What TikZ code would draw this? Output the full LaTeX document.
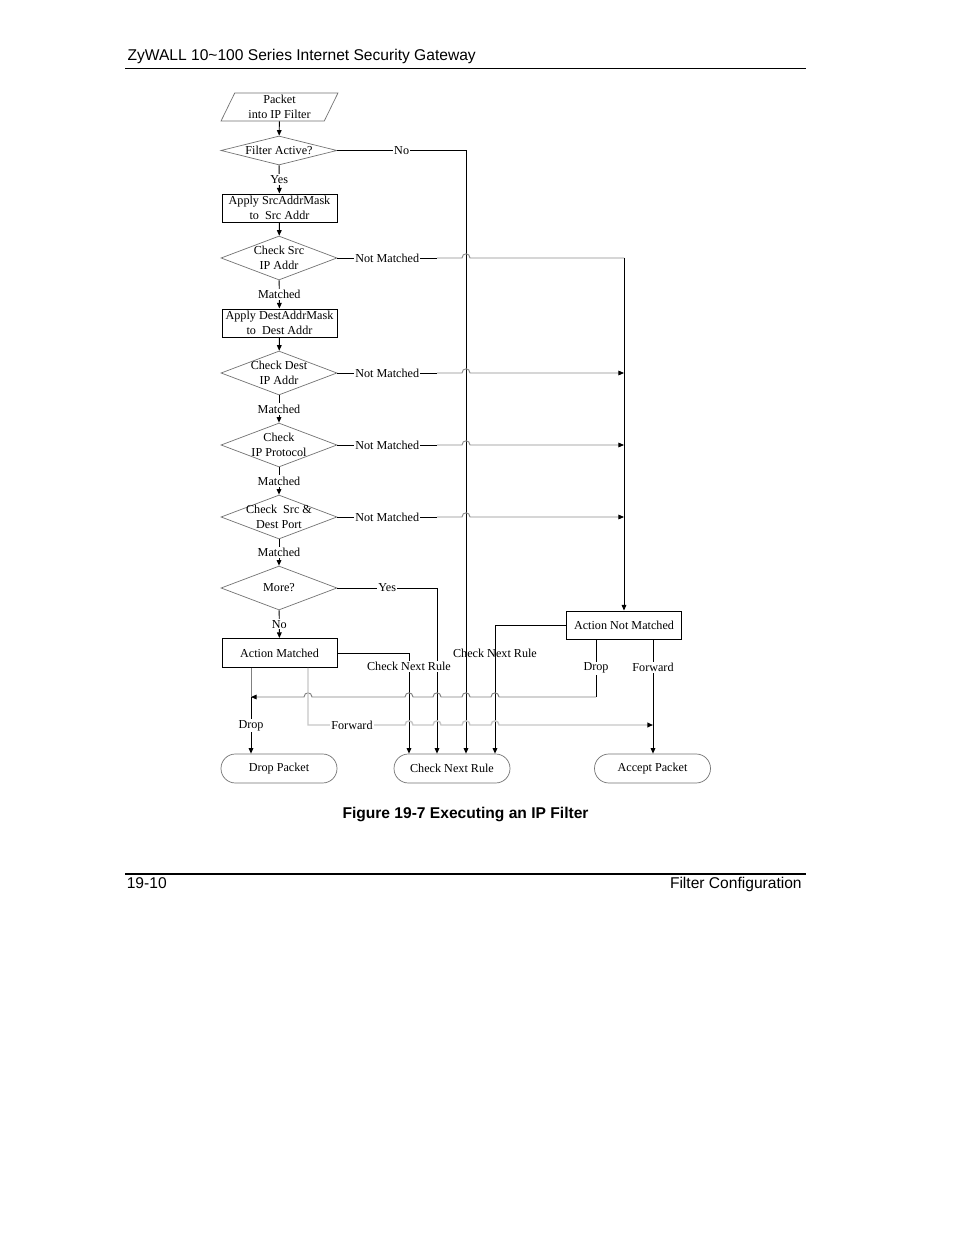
\documentclass[tikz,border=0pt]{standalone}
\usepackage{fontspec}
\setmainfont{Liberation Serif}
\newfontfamily\hsans{Liberation Sans}
\usetikzlibrary{shapes.geometric,arrows.meta}
\begin{document}
\begin{tikzpicture}[x=0.64151pt,y=-0.64151pt,
  every node/.style={font=\fontsize{7.8}{9.6}\selectfont, inner sep=0pt, align=center},
  ln/.style={line width=0.6pt, draw=black},
  arr/.style={ln, -{Triangle[length=3.6pt,width=3pt,color=black]}},
  gl/.style={line width=0.6pt, draw=black!45},
  gm/.style={line width=0.6pt, draw=black!50},
  gf/.style={line width=0.9pt, draw=black!22},
  tip/.style={-{Triangle[length=3.6pt,width=3pt,color=black]}},
  lab/.style={fill=white, inner sep=0.8pt},
  txt/.style={align=center},
  box/.style={draw=black, line width=0.6pt, minimum width=73.77pt, minimum height=17.96pt},
  dia/.style={diamond, draw=black!55, line width=0.45pt, minimum width=74.4pt, minimum height=28.2pt},
  term/.style={rectangle, rounded corners=9.2pt, draw=black!55, line width=0.45pt, minimum width=74.4pt, minimum height=18.6pt},
  para/.style={trapezium, trapezium left angle=68, trapezium right angle=112, trapezium stretches=true, draw=black!55, line width=0.45pt, minimum width=75.06pt, minimum height=17.96pt},
  page/.style={font=\hsans\fontsize{10}{12}\selectfont}
]
\useasboundingbox (0,0) rectangle (954,1235);
\fill[white] (0,0) rectangle (954,1235);

% page furniture
\node[page, anchor=base west] (hdr) at (127.3,61) {ZyWALL 10\textasciitilde 100 Series Internet Security Gateway};
\coordinate (hl) at (125,68.5); \coordinate (hr) at (806,68.5);
\draw[line width=0.7pt] (hl) -- (hr);
\node[page, font=\hsans\bfseries\fontsize{10}{12}\selectfont, anchor=base] (cap) at (465.5,818) {Figure 19-7 Executing an IP Filter};
\coordinate (fl) at (125,874); \coordinate (fr) at (806,874);
\draw[line width=0.7pt] (fl) -- (fr);
\node[page, anchor=base west] (pg) at (126.5,888.5) {19-10};
\node[page, anchor=base east] (sec) at (802,888.5) {Filter Configuration};

% main column
\node[para] (start) at (279.5,107) {Packet\\into IP Filter};
\node[dia, minimum height=18.6pt, label={[txt]center:Filter Active?}] (fa) at (279,150.5) {};
\node[box] (sa) at (279.5,208) {Apply SrcAddrMask\\to\ \ Src Addr};
\node[dia, label={[txt]center:Check Src\\IP Addr}] (cs) at (279,258) {};
\node[box] (da) at (279.5,323) {Apply DestAddrMask\\to\ \ Dest Addr};
\node[dia, label={[txt]center:Check Dest\\IP Addr}] (cd) at (279,373) {};
\node[dia, label={[txt]center:Check\\IP Protocol}] (cp) at (279,445) {};
\node[dia, label={[txt]center:Check\ \ Src \&\\Dest Port}] (cpt) at (279,517) {};
\node[dia, label={[txt]center:More?}] (more) at (279,588) {};
\node[box, minimum height=18.6pt] (am) at (279.5,653) {Action Matched};
\node[box] (anm) at (624,625) {Action Not Matched};
\node[term] (dp) at (279,768.5) {Drop Packet};
\node[term] (cnr) at (452,768.5) {Check Next Rule};
\node[term] (ap) at (652.5,768.5) {Accept Packet};

% helper coordinates
\coordinate (xam) at (409,0);
\coordinate (xyes) at (437,0);
\coordinate (xno) at (466,0);
\coordinate (xanm) at (495,0);
\coordinate (xnm) at (624,0);
\coordinate (xad) at (596,0);
\coordinate (xaf) at (653,0);
\coordinate (xdrop) at (251,0);
\coordinate (xfwd) at (308,0);
\coordinate (ydrop) at (0,697);
\coordinate (yfwd) at (0,725);

% vertical chain
\draw[arr] (start) -- (fa);
\draw[arr] (fa) -- node[lab]{Yes} (sa);
\draw[arr] (sa) -- (cs);
\draw[arr] (cs) -- node[lab]{Matched} (da);
\draw[arr] (da) -- (cd);
\draw[arr] (cd) -- node[lab]{Matched} (cp);
\draw[arr] (cp) -- node[lab]{Matched} (cpt);
\draw[arr] (cpt) -- node[lab]{Matched} (more);
\draw[arr] (more) -- node[lab]{No} (am);

% Filter Active? -> No
\draw[arr] (fa.east) -- node[lab]{No} (fa.east -| xno) -- (cnr.north -| xno);

% Not Matched branches
\draw[ln] (cs.east) -- node[lab]{Not Matched} (cs.east -| xyes);
\draw[gl] (cs.east -| xyes) -- (462,258) .. controls +(0,-5.5) and +(0,-5.5) .. (470,258) -- (cs.east -| xnm);
\draw[arr] (cs.east -| xnm) -- (anm.north);

\draw[ln] (cd.east) -- node[lab]{Not Matched} (cd.east -| xyes);
\draw[gl, tip] (cd.east -| xyes) -- (462,373) .. controls +(0,-5.5) and +(0,-5.5) .. (470,373) -- (cd.east -| xnm);

\draw[ln] (cp.east) -- node[lab]{Not Matched} (cp.east -| xyes);
\draw[gl, tip] (cp.east -| xyes) -- (462,445) .. controls +(0,-5.5) and +(0,-5.5) .. (470,445) -- (cp.east -| xnm);

\draw[ln] (cpt.east) -- node[lab]{Not Matched} (cpt.east -| xyes);
\draw[gl, tip] (cpt.east -| xyes) -- (462,517) .. controls +(0,-5.5) and +(0,-5.5) .. (470,517) -- (cpt.east -| xnm);

% More? -> Yes
\draw[arr] (more.east) -- node[lab]{Yes} (more.east -| xyes) -- (cnr.north -| xyes);

% Action Matched -> Check Next Rule
\draw[arr] (am.east) -- (am.east -| xam) -- node[lab, pos=0.13]{Check Next Rule} (cnr.north -| xam);

% Action Not Matched -> Check Next Rule
\draw[arr] (anm.west) -- (anm.west -| xanm) -- node[pos=0.22]{Check Next Rule} (cnr.north -| xanm);

% Action Not Matched -> Drop
\draw[ln] (anm.south -| xad) -- node[lab]{Drop} (ydrop -| xad);
\draw[gm, tip] (ydrop -| xad) -- (499,697) .. controls +(0,-5.5) and +(0,-5.5) .. (491,697)
  -- (470,697) .. controls +(0,-5.5) and +(0,-5.5) .. (462,697)
  -- (441,697) .. controls +(0,-5.5) and +(0,-5.5) .. (433,697)
  -- (413,697) .. controls +(0,-5.5) and +(0,-5.5) .. (405,697)
  -- (312,697) .. controls +(0,-5.5) and +(0,-5.5) .. (304,697)
  -- (ydrop -| xdrop);
\draw[gm] (am.south -| xdrop) -- (ydrop -| xdrop);
\draw[arr] (ydrop -| xdrop) -- node[lab]{Drop} (dp.north -| xdrop);

% Action Matched -> Forward
\draw[gf, tip] (am.south -| xfwd) -- (yfwd -| xfwd) -- node[lab]{Forward} (396,725)
  -- (405,725) .. controls +(0,-5.5) and +(0,-5.5) .. (413,725)
  -- (433,725) .. controls +(0,-5.5) and +(0,-5.5) .. (441,725)
  -- (462,725) .. controls +(0,-5.5) and +(0,-5.5) .. (470,725)
  -- (491,725) .. controls +(0,-5.5) and +(0,-5.5) .. (499,725)
  -- (yfwd -| xaf);

% Action Not Matched -> Forward
\draw[arr] (anm.south -| xaf) -- node[lab, pos=0.245]{Forward} (ap.north -| xaf);
\end{tikzpicture}
\end{document}
